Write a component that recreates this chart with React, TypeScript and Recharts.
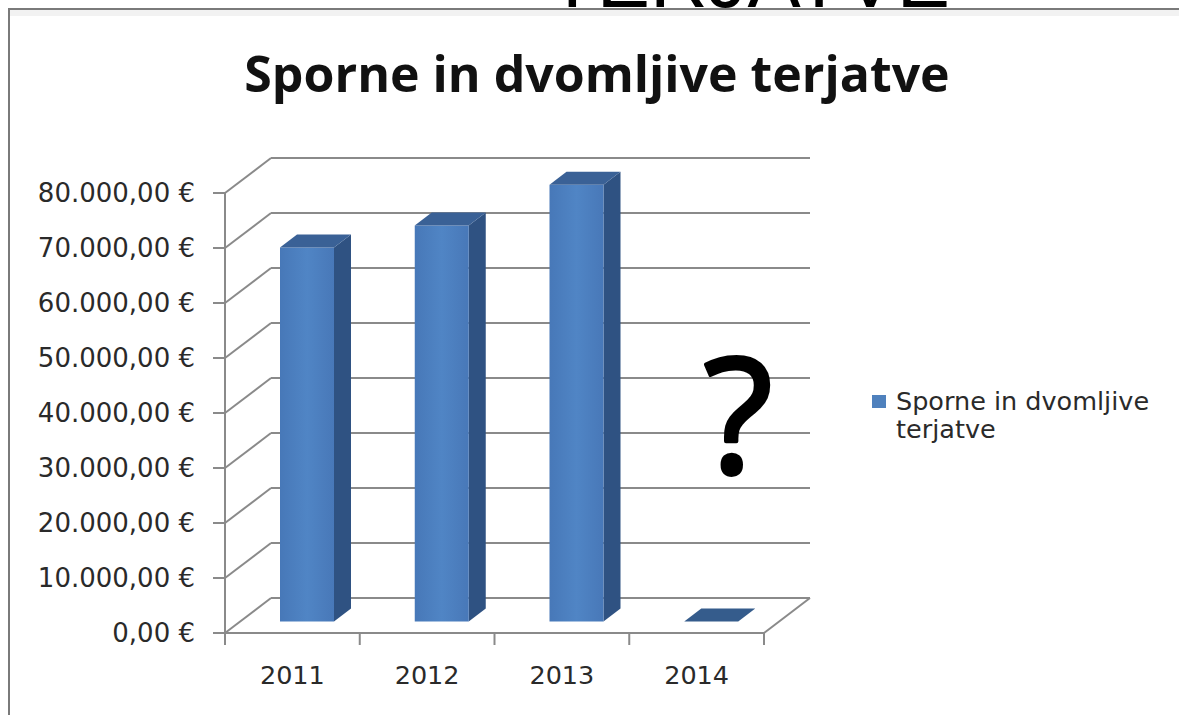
import React from 'react';
import { BarChart, Bar, XAxis, YAxis, CartesianGrid, ReferenceLine, Legend } from 'recharts';

// ---- data ----
const categories: string[] = ['2011', '2012', '2013', '2014'];
const values: number[] = [68000, 72000, 79400, 0];
const yTicks: number[] = [0, 10000, 20000, 30000, 40000, 50000, 60000, 70000, 80000];
const seriesName = 'Sporne in dvomljive terjatve';
const chartTitle = 'Sporne in dvomljive terjatve';
const bannerText = 'TERJATVE';
const annotationText = '?';

const data = categories.map((c, i) => ({ year: c, value: values[i] }));

// ---- styling constants ----
const W = 1179;
const H = 715;
const WALL_DX = 46;
const WALL_DY = -35;
const BAR_DX = 15;
const BAR_DY = -11.5;
const BD_X = 17;
const BD_Y = -13;
const GRID = '#8a8a8a';
const FRONT = '#4a7ebe';
const SIDE = '#2f5282';
const TOP = '#3a6196';
const FONT = '"DejaVu Sans", sans-serif';

const fmt = (v: number) =>
  Math.round(v).toString().replace(/\B(?=(\d{3})+(?!\d))/g, '.') + ',00 €';

const Bar3D = (props: any) => {
  const { x, y, width, height, payload } = props;
  const val = payload ? payload.value : props.value;
  const base = y + height;
  const topY = val > 0 ? y : base;
  const fx = x + BAR_DX;
  const fTop = topY + BAR_DY;
  const fBot = base + BAR_DY;
  const h = fBot - fTop;
  const topPts = `${fx},${fTop} ${fx + BD_X},${fTop + BD_Y} ${fx + width + BD_X},${fTop + BD_Y} ${fx + width},${fTop}`;
  const sidePts = `${fx + width},${fTop} ${fx + width + BD_X},${fTop + BD_Y} ${fx + width + BD_X},${fBot + BD_Y} ${fx + width},${fBot}`;
  return (
    <g>
      {h > 0.5 && <polygon points={sidePts} fill={SIDE} />}
      {h > 0.5 && <rect x={fx} y={fTop} width={width} height={h} fill="url(#frontGrad)" />}
      <polygon points={topPts} fill={val > 0 ? TOP : '#355c8c'} />
    </g>
  );
};

const gridLine = (p: any) => {
  const { x1, y1, x2, y2 } = p;
  return (
    <g key={p.key}>
      <line x1={x1} y1={y1} x2={x1 + WALL_DX} y2={y1 + WALL_DY} stroke={GRID} strokeWidth={2} />
      <line x1={x1 + WALL_DX} y1={y1 + WALL_DY} x2={x2 + WALL_DX} y2={y2 + WALL_DY} stroke={GRID} strokeWidth={2} />
    </g>
  );
};

const FloorEdge = (p: any) => {
  const xr = Math.max(p.x1, p.x2);
  const y = p.y1;
  return <line x1={xr} y1={y} x2={xr + WALL_DX} y2={y + WALL_DY} stroke={GRID} strokeWidth={2} />;
};

const BoundaryTick = (p: any) => {
  const yb = Math.max(p.y1, p.y2);
  return <line x1={p.x1} y1={yb} x2={p.x1} y2={yb + 12} stroke={GRID} strokeWidth={2} />;
};

const LegendContent = () => (
  <div style={{ display: 'flex', alignItems: 'flex-start', fontFamily: FONT, fontSize: 25.5, color: '#2a2a2a', lineHeight: '28px' }}>
    <div style={{ width: 14, height: 13, background: '#4f81bd', marginTop: 8, marginRight: 10, flex: 'none' }} />
    <div style={{ width: 280 }}>{seriesName}</div>
  </div>
);

export default function App() {
  return (
    <div style={{ position: 'absolute', left: 0, top: 0, width: W, height: H, background: '#fff', fontFamily: FONT }}>
      <BarChart
        width={W}
        height={H}
        data={data}
        margin={{ top: 193, right: 415, bottom: 22, left: 0 }}
        barSize={54}
      >
        <defs>
          <linearGradient id="frontGrad" x1="0" y1="0" x2="1" y2="0">
            <stop offset="0%" stopColor="#4778b8" />
            <stop offset="50%" stopColor="#5085c5" />
            <stop offset="100%" stopColor="#4878b8" />
          </linearGradient>
        </defs>
        <CartesianGrid vertical={false} horizontal={gridLine} />
        <XAxis
          dataKey="year"
          height={60}
          tickLine={false}
          tickSize={0}
          tickMargin={33}
          axisLine={{ stroke: GRID, strokeWidth: 2 }}
          tick={{ fill: '#2a2a2a', fontSize: 25.5, fontFamily: FONT }}
        />
        <YAxis
          width={225}
          domain={[0, 80000]}
          ticks={yTicks}
          interval={0}
          tickFormatter={fmt}
          tickSize={12}
          tickMargin={18}
          axisLine={{ stroke: GRID, strokeWidth: 2 }}
          tickLine={{ stroke: GRID, strokeWidth: 2 }}
          tick={{ fill: '#2a2a2a', fontSize: 26, fontFamily: FONT }}
        />
        <Legend
          layout="horizontal"
          verticalAlign="middle"
          align="center"
          content={LegendContent}
          wrapperStyle={{ position: 'absolute', left: 872, top: 387, width: 305 }}
        />
        <Bar dataKey="value" name={seriesName} fill={FRONT} shape={Bar3D} minPointSize={1} isAnimationActive={false} />
        {categories.map((c) => (
          <ReferenceLine key={'s' + c} x={c} position="start" shape={BoundaryTick} />
        ))}
        <ReferenceLine x={categories[categories.length - 1]} position="end" shape={BoundaryTick} />
        <ReferenceLine y={0} shape={FloorEdge} />
      </BarChart>
      <svg width={W} height={H} style={{ position: 'absolute', left: 0, top: 0, pointerEvents: 'none' }}>
        <text x={548} y={7} fontFamily='"Liberation Sans", Arial, sans-serif' fontSize={80} textLength={402} lengthAdjust="spacingAndGlyphs" fill="#000">
          {bannerText}
        </text>
        <rect x={9} y={10} width={W} height={6} fill="#f2f2f2" />
        <line x1={8} y1={9} x2={W} y2={9} stroke="#7a7a7a" strokeWidth={2} />
        <line x1={9} y1={9} x2={9} y2={H} stroke="#7a7a7a" strokeWidth={2} />
        <text x={597} y={92} textAnchor="middle" fontFamily='"Open Sans", sans-serif' fontWeight={700} fontSize={50} fill="#111">
          {chartTitle}
        </text>
        <text x={738} y={473} textAnchor="middle" fontFamily='"Open Sans", sans-serif' fontSize={160} fill="#000" stroke="#000" strokeWidth={4} strokeLinejoin="round">
          {annotationText}
        </text>
      </svg>
    </div>
  );
}
